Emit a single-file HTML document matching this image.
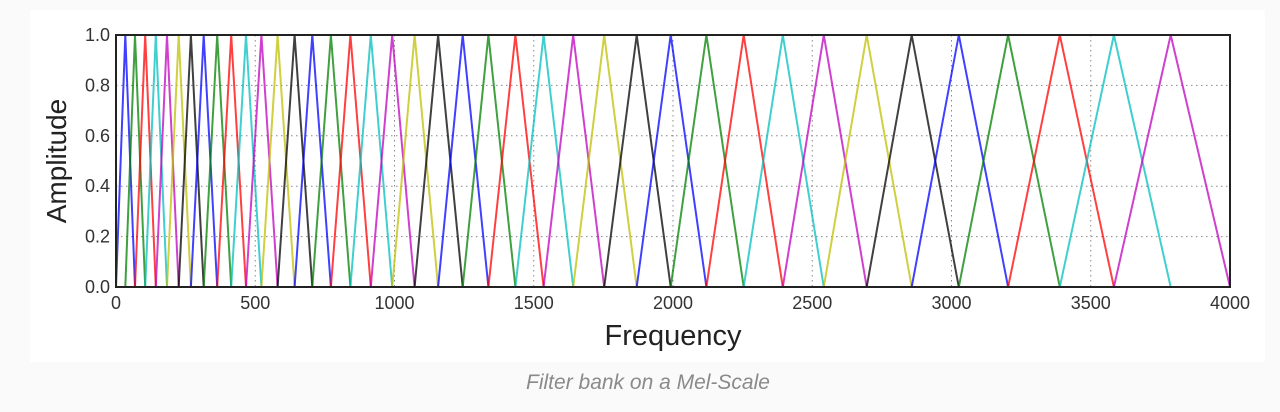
<!DOCTYPE html>
<html><head><meta charset="utf-8">
<style>
html,body{margin:0;padding:0;background:#fafafa;width:1280px;height:412px;overflow:hidden;font-family:"Liberation Sans",sans-serif;}
#panel{position:absolute;left:30px;top:10px;width:1235px;height:352px;background:#fff;}
#caption{position:absolute;left:0;width:1296px;top:371px;text-align:center;font-style:italic;color:#8a8a8a;font-size:21px;}
</style></head><body>
<div id="panel"></div>
<svg id="chart" width="1280" height="412" style="position:absolute;left:0;top:0"></svg>
<div id="caption">Filter bank on a Mel-Scale</div>
<script>
const melPointsHz = [0,33.3,68.1,104.7,142.9,183.0,225.0,268.9,315.0,363.3,413.8,466.8,522.2,580.3,641.2,705.0,771.8,841.7,915.0,991.8,1072.3,1156.5,1244.8,1337.2,1434.1,1535.5,1641.8,1753.1,1869.8,1991.9,2119.9,2254.0,2394.4,2541.5,2695.6,2857.1,3026.2,3203.3,3388.9,3583.3,3786.9,4000];
const seriesColors = ["#0000ff","#008000","#ff0000","#00bfbf","#bf00bf","#bfbf00","#000000"];
const xTicks = [0,500,1000,1500,2000,2500,3000,3500,4000];
const yTicks = [0.0,0.2,0.4,0.6,0.8,1.0];
const yTickLabels = ["0.0","0.2","0.4","0.6","0.8","1.0"];

const L=116,R=1230,T=35,B=287;
const xs=v=>L+(v-0)/(4000-0)*(R-L);
const ys=v=>B-(v-0)/(1-0)*(B-T);
const NS="http://www.w3.org/2000/svg";
const svg=document.getElementById('chart');
function mk(tag,attrs,parent){const e=document.createElementNS(NS,tag);for(const k in attrs)e.setAttribute(k,attrs[k]);(parent||svg).appendChild(e);return e;}

yTicks.forEach((t,i)=>{if(t>0&&t<1){
 const g=mk('line',{x1:L,x2:R,y1:ys(t),y2:ys(t),stroke:'#888','stroke-width':1,'stroke-dasharray':'1.5,3.5'});
 
 }});
xTicks.forEach(t=>{if(t>0&&t<4000){
 const g=mk('line',{x1:xs(t),x2:xs(t),y1:T,y2:B,stroke:'#888','stroke-width':1,'stroke-dasharray':'1.5,3.5'});
 
 }});

for(let i=1;i<melPointsHz.length-1;i++){
 const pts=[[melPointsHz[i-1],0],[melPointsHz[i],1],[melPointsHz[i+1],0]].map(p=>xs(p[0]).toFixed(1)+','+ys(p[1]).toFixed(1)).join(' ');
 const pl=mk('polyline',{points:pts,fill:'none',stroke:seriesColors[(i-1)%7],'stroke-width':2,'stroke-opacity':0.75});
 
 
}

const fr=mk('rect',{x:L,y:T,width:R-L,height:B-T,fill:'none',stroke:'#222','stroke-width':2});



xTicks.forEach(t=>{
 const tx=mk('text',{x:xs(t),y:B+22,'text-anchor':'middle','font-size':18,fill:'#333','font-family':'Liberation Sans, sans-serif'});
 tx.textContent=t;
 
 
});
yTicks.forEach((t,i)=>{
 const tx=mk('text',{x:L-6,y:ys(t)+6,'text-anchor':'end','font-size':18,fill:'#333','font-family':'Liberation Sans, sans-serif'});
 tx.textContent=yTickLabels[i];
 
 
});
const xl=mk('text',{x:673,y:345,'text-anchor':'middle','font-size':29,fill:'#222','font-family':'Liberation Sans, sans-serif'});
xl.textContent='Frequency';


const yl=mk('text',{x:0,y:0,'text-anchor':'middle','font-size':28,fill:'#222','font-family':'Liberation Sans, sans-serif',transform:'translate(66,161) rotate(-90)'});
yl.textContent='Amplitude';


</script>
</body></html>
